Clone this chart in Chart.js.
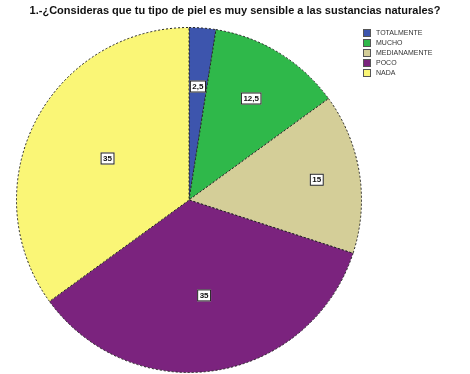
<!DOCTYPE html>
<html>
<head>
<meta charset="utf-8">
<script src="https://cdn.jsdelivr.net/npm/chart.js@4.4.0/dist/chart.umd.min.js"></script>
<style>
  body { margin: 0; background: #fff; }
  #wrap { position: relative; width: 470px; height: 374px; }
  #title {
    position: absolute; left: 0; top: 4px; width: 470px; text-align: center;
    font: bold 11px "Liberation Sans", Arial, sans-serif; color: #111;
  }
  #legend {
    position: absolute; left: 363px; top: 29px;
    font: 7px "Liberation Sans", Arial, sans-serif; color: #333;
  }
  #legend div { height: 10px; line-height: 8px; white-space: nowrap; }
  #legend span {
    display: inline-block; width: 6px; height: 6px; margin-right: 5px;
    border: 1px solid #555; vertical-align: top;
  }
</style>
</head>
<body>
<div id="wrap">
  <div id="title">1.-¿Consideras que tu tipo de piel es muy sensible a las sustancias naturales?</div>
  <canvas id="pieChart" width="470" height="374"></canvas>
  <div id="legend"></div>
</div>
<script>
// Respuestas y porcentajes
const categories = ['TOTALMENTE', 'MUCHO', 'MEDIANAMENTE', 'POCO', 'NADA'];
const percents = [2.5, 12.5, 15, 35, 35];
const colors = ['#3d55ad', '#2fb84a', '#d4ce98', '#7b237e', '#faf676'];

// distancia de cada etiqueta al centro (fraccion del radio)
const labelRadius = [0.66, 0.69, 0.75, 0.56, 0.53];

// leyenda
const legend = document.getElementById('legend');
categories.forEach(function (c, i) {
    const row = document.createElement('div');
    row.innerHTML = '<span style="background:' + colors[i] + '"></span>' + c;
    legend.appendChild(row);
});

// etiquetas con el valor en una cajita blanca
const valueBoxes = {
    id: 'valueBoxes',
    afterDatasetsDraw(chart) {
        const ctx = chart.ctx;
        const meta = chart.getDatasetMeta(0);
        ctx.save();
        ctx.font = 'bold 8px "Liberation Sans", Arial, sans-serif';
        ctx.textAlign = 'center';
        ctx.textBaseline = 'middle';
        meta.data.forEach(function (arc, i) {
            const mid = (arc.startAngle + arc.endAngle) / 2;
            const r = arc.outerRadius * labelRadius[i];
            const x = arc.x + Math.cos(mid) * r;
            const y = arc.y + Math.sin(mid) * r;
            const txt = String(percents[i]).replace('.', ',');
            const w = ctx.measureText(txt).width + 5;
            ctx.fillStyle = '#fff';
            ctx.fillRect(x - w / 2, y - 6, w, 12);
            ctx.strokeStyle = '#222';
            ctx.lineWidth = 1;
            ctx.strokeRect(x - w / 2 + 0.5, y - 5.5, w - 1, 11);
            ctx.fillStyle = '#111';
            ctx.fillText(txt, x, y + 0.5);
        });
        ctx.restore();
    }
};

new Chart(document.getElementById('pieChart').getContext('2d'), {
    type: 'pie',
    data: {
        labels: categories,
        datasets: [{
            data: percents,
            backgroundColor: colors,
            borderColor: '#222',
            borderWidth: 1,
            borderDash: [2, 2]
        }]
    },
    options: {
        responsive: false,
        animation: false,
        layout: { padding: { left: 16, right: 108, top: 27, bottom: 1 } },
        plugins: {
            legend: { display: false },
            tooltip: { enabled: false }
        }
    },
    plugins: [valueBoxes]
});
</script>
</body>
</html>
